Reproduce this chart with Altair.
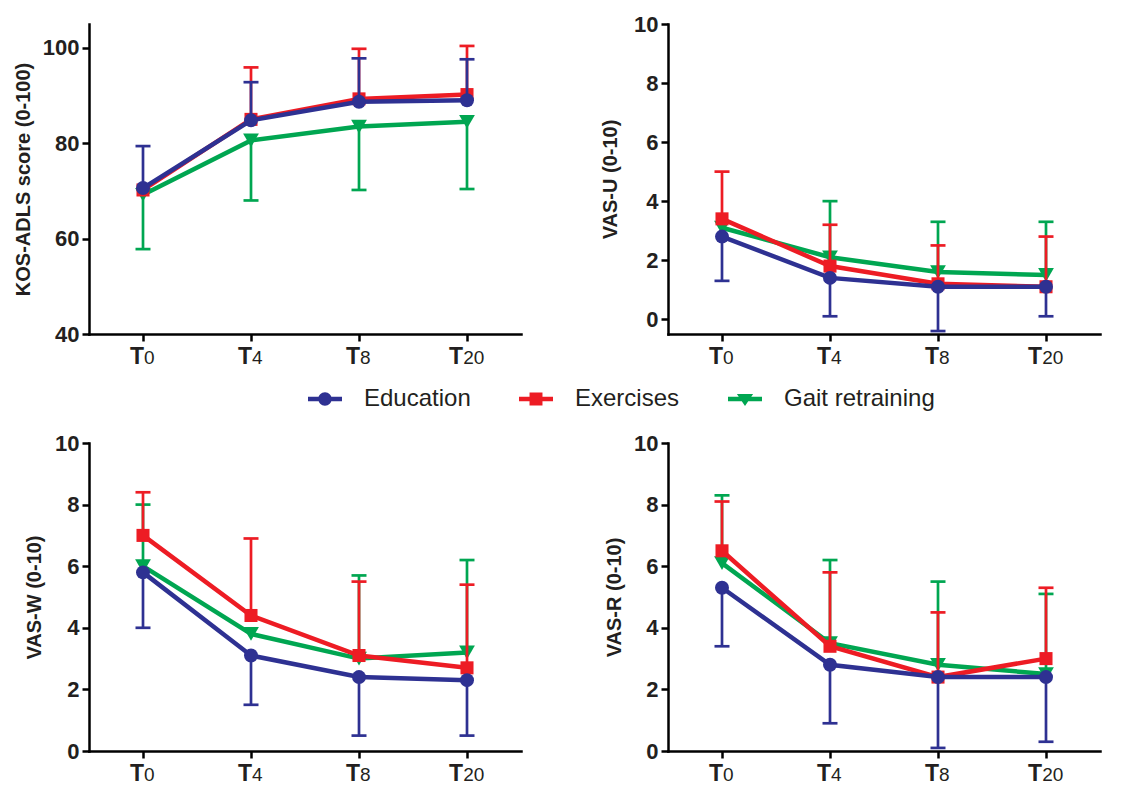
import altair as alt
import pandas as pd

# ---------------- data ----------------
time_points = ["0", "4", "8", "20"]
series_names = ["Education", "Exercises", "Gait retraining"]

kos_education = [70.6, 84.8, 88.7, 89.0]
kos_education_bar = [79.4, 92.8, 97.8, 97.6]
kos_exercises = [70.2, 85.0, 89.3, 90.2]
kos_exercises_bar = [None, 95.9, 99.8, 100.4]
kos_gait = [69.2, 80.6, 83.5, 84.5]
kos_gait_bar = [57.8, 68.0, 70.2, 70.4]

vasu_education = [2.8, 1.4, 1.1, 1.1]
vasu_education_bar = [1.3, 0.1, -0.4, 0.1]
vasu_exercises = [3.4, 1.8, 1.2, 1.1]
vasu_exercises_bar = [5.0, 3.2, 2.5, 2.8]
vasu_gait = [3.1, 2.1, 1.6, 1.5]
vasu_gait_bar = [None, 4.0, 3.3, 3.3]

vasw_education = [5.8, 3.1, 2.4, 2.3]
vasw_education_bar = [4.0, 1.5, 0.5, 0.5]
vasw_exercises = [7.0, 4.4, 3.1, 2.7]
vasw_exercises_bar = [8.4, 6.9, 5.5, 5.4]
vasw_gait = [6.0, 3.8, 3.0, 3.2]
vasw_gait_bar = [8.0, None, 5.7, 6.2]

vasr_education = [5.3, 2.8, 2.4, 2.4]
vasr_education_bar = [3.4, 0.9, 0.1, 0.3]
vasr_exercises = [6.5, 3.4, 2.4, 3.0]
vasr_exercises_bar = [8.1, 5.8, 4.5, 5.3]
vasr_gait = [6.1, 3.5, 2.8, 2.5]
vasr_gait_bar = [8.3, 6.2, 5.5, 5.1]

# ---------------- style ----------------
FONT = "Liberation Sans"
TEXT = "#231f20"
color_list = ["#2E3192", "#ED1C24", "#00A651"]
COLORS = dict(zip(series_names, color_list))
marker_shapes = {"Education": "circle", "Exercises": "square", "Gait retraining": "triangle-down"}
SIZES = {"Education": 195, "Exercises": 170, "Gait retraining": 250}
DRAW_ORDER = ["Gait retraining", "Exercises", "Education"]

# legend symbols: a line segment with the series marker on it (filled paths)
BAR = "M-2.52,-0.33H2.52V0.33H-2.52Z"
legend_paths = [
    BAR + "M1,0A1,1,0,1,1,-1,0A1,1,0,1,1,1,0Z",
    BAR + "M-0.96,-0.96H0.96V0.96H-0.96Z",
    BAR + "M-1.2,-0.75H1.2L0,1.05Z",
]

color_scale = alt.Scale(domain=series_names, range=color_list)
shape_scale = alt.Scale(domain=series_names, range=legend_paths)

legend = alt.Legend(
    title=None, orient="none", direction="horizontal", legendX=224, legendY=363,
    symbolSize=182, symbolStrokeWidth=0, symbolOpacity=1,
    labelFont=FONT, labelFontSize=24, labelColor=TEXT, labelOffset=27,
    columnPadding=48, padding=0, labelLimit=0,
)


def make_df(means, bars):
    rows = []
    for s, m, b in zip(series_names, means, bars):
        for i, (mv, bv) in enumerate(zip(m, b)):
            rows.append({"series": s, "idx": i, "mean": mv, "bar_end": bv})
    return pd.DataFrame(rows)


def panel(means, bars, ytitle, ydom, yticks, h, tpad, with_legend=False):
    df = make_df(means, bars)
    xscale = alt.Scale(domain=[-0.5, 3.5], nice=False, zero=False)
    xaxis = alt.Axis(values=[0, 1, 2, 3], labels=False, title=None)
    yscale = alt.Scale(domain=ydom, nice=False, zero=False)
    yaxis = alt.Axis(values=yticks, title=ytitle, format="d", titlePadding=tpad)

    def X(f):
        return alt.X(f, type="quantitative", scale=xscale, axis=xaxis)

    def Y(f):
        return alt.Y(f, type="quantitative", scale=yscale, axis=yaxis)

    base = alt.Chart(df)
    layers = []
    if with_legend:
        # legend-only layer (draws no marks itself)
        layers.append(
            base.transform_filter("false")
            .mark_point(filled=True, opacity=1, strokeWidth=0)
            .encode(
                x=X("idx"), y=Y("mean"),
                color=alt.Color("series:N", scale=color_scale, legend=legend),
                shape=alt.Shape("series:N", scale=shape_scale, legend=legend),
            )
        )
    for s in DRAW_ORDER:
        b = base.transform_filter(alt.datum.series == s)
        bars_b = b.transform_filter("isValid(datum.bar_end)")
        c = COLORS[s]
        layers.append(
            bars_b.mark_rule(strokeWidth=2.7, color=c).encode(
                x=X("idx"), y=Y("mean"), y2="bar_end:Q"
            )
        )
        layers.append(
            bars_b.mark_tick(orient="horizontal", size=15, thickness=2.7, opacity=1,
                             color=c).encode(x=X("idx"), y=Y("bar_end"))
        )
        layers.append(
            b.mark_line(strokeWidth=4.5, color=c).encode(x=X("idx"), y=Y("mean"))
        )
        layers.append(
            b.mark_point(filled=True, opacity=1, size=SIZES[s], strokeWidth=0,
                         shape=marker_shapes[s], color=c).encode(x=X("idx"), y=Y("mean"))
        )

    lab = alt.Chart(pd.DataFrame({"idx": list(range(len(time_points))), "num": time_points}))
    lab = lab.transform_calculate(tx="datum.idx - (length(datum.num) - 1) * 0.045")
    layers.append(
        lab.mark_text(text="T", align="right", baseline="alphabetic", font=FONT,
                      fontWeight="bold", fontSize=23, color=TEXT, dx=1).encode(
            x=X("tx"), y=alt.value(h + 30)
        )
    )
    layers.append(
        lab.mark_text(align="left", baseline="alphabetic", font=FONT,
                      fontWeight="normal", fontSize=19, color=TEXT, dx=1).encode(
            x=X("tx"), y=alt.value(h + 30), text="num:N"
        )
    )
    return alt.layer(*layers).properties(width=432, height=h)


p1 = panel([kos_education, kos_exercises, kos_gait],
           [kos_education_bar, kos_exercises_bar, kos_gait_bar],
           "KOS-ADLS score (0-100)", [40, 105], [40, 60, 80, 100], 310, 9, True)
p2 = panel([vasu_education, vasu_exercises, vasu_gait],
           [vasu_education_bar, vasu_exercises_bar, vasu_gait_bar],
           "VAS-U (0-10)", [-0.5, 10], [0, 2, 4, 6, 8, 10], 310, 13)
p3 = panel([vasw_education, vasw_exercises, vasw_gait],
           [vasw_education_bar, vasw_exercises_bar, vasw_gait_bar],
           "VAS-W (0-10)", [0, 10], [0, 2, 4, 6, 8, 10], 308, 10)
p4 = panel([vasr_education, vasr_exercises, vasr_gait],
           [vasr_education_bar, vasr_exercises_bar, vasr_gait_bar],
           "VAS-R (0-10)", [0, 10], [0, 2, 4, 6, 8, 10], 308, 9)

chart = (
    alt.concat(p1, p2, p3, p4, columns=2, spacing={"row": 63, "column": 79})
    .configure_view(stroke=None)
    .configure_axis(
        domainColor="black", domainWidth=2.5, domainCap="square",
        tickColor="black", tickWidth=2.5, tickSize=7,
        labelFont=FONT, labelFontSize=22, labelFontWeight="bold", labelColor=TEXT,
        labelPadding=3,
        titleFont=FONT, titleFontSize=20, titleFontWeight="bold", titleColor=TEXT,
        grid=False,
    )
)

chart.save("out.html", embed_options={"renderer": "svg", "actions": False})
